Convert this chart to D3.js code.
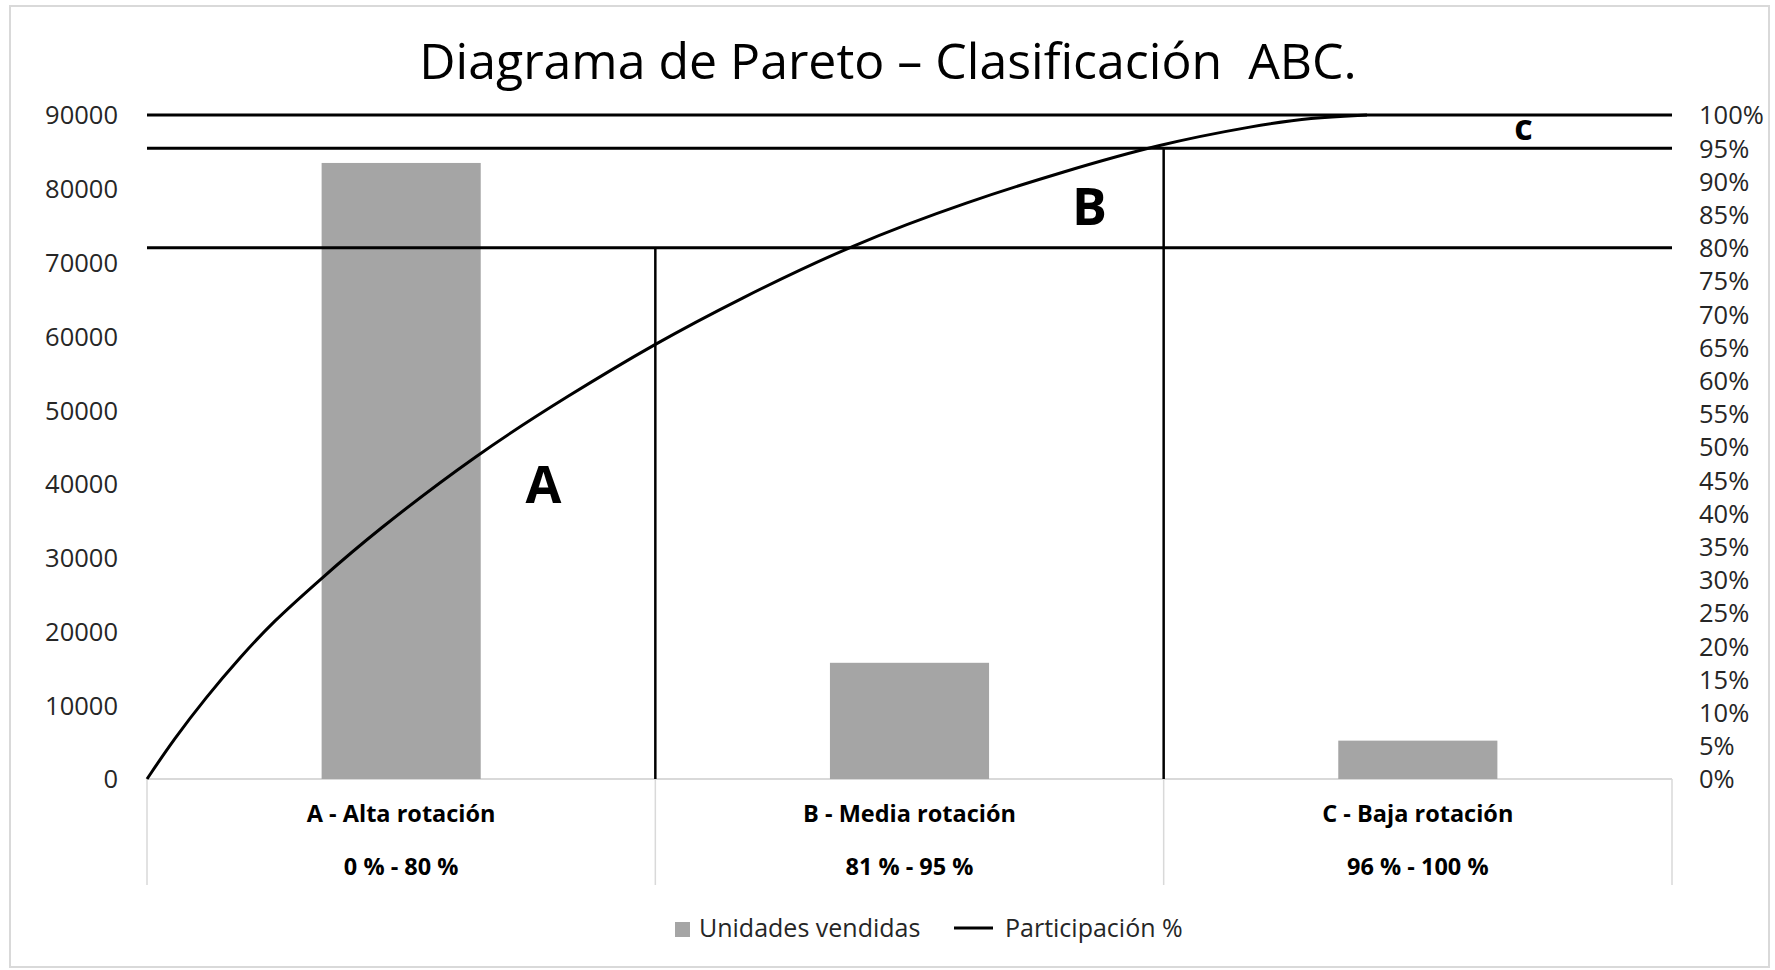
<!DOCTYPE html>
<html>
<head>
<meta charset="utf-8">
<script src="https://cdn.jsdelivr.net/npm/d3@7"></script>
<style>
    body { margin: 0; background: #fff; }
    text { font-family: "Open Sans", sans-serif; }
</style>
</head>
<body>
<svg id="pareto" width="1775" height="970"></svg>
<script>
// categorias y valores
const categories = ["A - Alta rotación", "B - Media rotación", "C - Baja rotación"];
const ranges = ["0 % - 80 %", "81 % - 95 %", "96 % - 100 %"];
const unidades = [83500, 15750, 5200];

const leftTicks = [0, 10000, 20000, 30000, 40000, 50000, 60000, 70000, 80000, 90000];
const rightTicks = [0, 5, 10, 15, 20, 25, 30, 35, 40, 45, 50, 55, 60, 65, 70, 75, 80, 85, 90, 95, 100];

// curva de participacion acumulada (posicion sobre el eje de categorias 0..3, %)
const curvePos = [0, 0.052, 0.117, 0.183, 0.248, 0.34, 0.445, 0.65, 0.83, 1.0, 1.16, 1.39, 1.62, 1.8, 1.99, 2.18, 2.29, 2.4];
const curvePct = [0, 5.9, 12.4, 18.3, 23.7, 30.0, 37.0, 49, 57.8, 65.6, 72.1, 80.6, 87.1, 91.4, 95.6, 98.4, 99.6, 100];

// lineas de corte ABC
const cutLines = [80, 95, 100];
const cutBoundaries = [1, 2];
const cutBoundaryTop = [80, 95];

// letras de zona
const zoneLetters = ["A", "B", "c"];
const zonePos = [0.78, 1.854, 2.708];
const zonePct = [41.5, 83.5, 96.2];

const title = "Diagrama de Pareto – Clasificación  ABC.";
const legendNames = ["Unidades vendidas", "Participación %"];

const svg = d3.select('#pareto');

const PLOT_LEFT = 147;
const PLOT_RIGHT = 1672;
const PLOT_TOP = 115;
const PLOT_BOTTOM = 779;
const BAR_COLOR = '#a5a5a5';
const GRID = '#d9d9d9';

const xBand = d3.scaleBand().domain(categories).range([PLOT_LEFT, PLOT_RIGHT]).padding(0);
const xPos = d3.scaleLinear().domain([0, 3]).range([PLOT_LEFT, PLOT_RIGHT]);
const yLeft = d3.scaleLinear().domain([0, 90000]).range([PLOT_BOTTOM, PLOT_TOP]);
const yRight = d3.scaleLinear().domain([0, 100]).range([PLOT_BOTTOM, PLOT_TOP]);

// marco del grafico
svg.append('rect')
    .attr('x', 10).attr('y', 6)
    .attr('width', 1759).attr('height', 961)
    .attr('fill', '#fff')
    .attr('stroke', GRID)
    .attr('stroke-width', 2);

svg.append('text')
    .text(title)
    .attr('x', 888)
    .attr('y', 79)
    .attr('text-anchor', 'middle')
    .attr('font-size', 50)
    .attr('fill', '#000')
    .style('white-space', 'pre');

// ejes
const axisL = svg.append('g')
    .attr('transform', `translate(${PLOT_LEFT},0)`)
    .call(d3.axisLeft(yLeft).tickValues(leftTicks).tickSize(0).tickPadding(29).tickFormat(d3.format('d')));
const axisR = svg.append('g')
    .attr('transform', `translate(${PLOT_RIGHT},0)`)
    .call(d3.axisRight(yRight).tickValues(rightTicks).tickSize(0).tickPadding(27).tickFormat(d => d + '%'));
[axisL, axisR].forEach(g => {
    g.select('.domain').remove();
    g.selectAll('text')
        .attr('font-family', '"Open Sans", sans-serif')
        .attr('font-size', 25.5)
        .attr('fill', '#262626')
        .attr('dy', '0.35em');
});

// eje de categorias
svg.append('line')
    .attr('x1', PLOT_LEFT).attr('x2', PLOT_RIGHT)
    .attr('y1', PLOT_BOTTOM).attr('y2', PLOT_BOTTOM)
    .attr('stroke', GRID).attr('stroke-width', 2);
svg.selectAll('.divider')
    .data([0, 1, 2, 3])
    .join('line')
    .attr('class', 'divider')
    .attr('x1', d => xPos(d)).attr('x2', d => xPos(d))
    .attr('y1', PLOT_BOTTOM).attr('y2', 885)
    .attr('stroke', GRID).attr('stroke-width', 1.5);

svg.selectAll('.cat')
    .data(categories)
    .join('text')
    .attr('class', 'cat')
    .text(d => d)
    .attr('x', d => xBand(d) + xBand.bandwidth() / 2)
    .attr('y', 822)
    .attr('text-anchor', 'middle')
    .attr('font-size', 23.5)
    .attr('font-weight', 'bold')
    .attr('fill', '#000');
svg.selectAll('.range')
    .data(categories)
    .join('text')
    .attr('class', 'range')
    .text((d, i) => ranges[i])
    .attr('x', d => xBand(d) + xBand.bandwidth() / 2)
    .attr('y', 875)
    .attr('text-anchor', 'middle')
    .attr('font-size', 23.5)
    .attr('font-weight', 'bold')
    .attr('fill', '#000');

// barras
const barW = xBand.bandwidth() * 0.313;
svg.selectAll('.bar')
    .data(categories)
    .join('rect')
    .attr('class', 'bar')
    .attr('x', d => xBand(d) + (xBand.bandwidth() - barW) / 2)
    .attr('y', (d, i) => yLeft(unidades[i]))
    .attr('width', barW)
    .attr('height', (d, i) => PLOT_BOTTOM - yLeft(unidades[i]))
    .attr('fill', BAR_COLOR);

// lineas de corte
svg.selectAll('.cut')
    .data(cutLines)
    .join('line')
    .attr('class', 'cut')
    .attr('x1', PLOT_LEFT).attr('x2', PLOT_RIGHT)
    .attr('y1', d => yRight(d)).attr('y2', d => yRight(d))
    .attr('stroke', '#000').attr('stroke-width', 3);
svg.selectAll('.bound')
    .data(cutBoundaries)
    .join('line')
    .attr('class', 'bound')
    .attr('x1', d => xPos(d)).attr('x2', d => xPos(d))
    .attr('y1', (d, i) => yRight(cutBoundaryTop[i])).attr('y2', PLOT_BOTTOM)
    .attr('stroke', '#000').attr('stroke-width', 2.5);

// curva acumulada
const curveData = curvePos.map((p, i) => [p, curvePct[i]]);
svg.append('path')
    .datum(curveData)
    .attr('fill', 'none')
    .attr('stroke', '#000')
    .attr('stroke-width', 3)
    .attr('d', d3.line().x(d => xPos(d[0])).y(d => yRight(d[1])).curve(d3.curveBasis));

// letras
svg.selectAll('.zone')
    .data(zoneLetters)
    .join('text')
    .attr('class', 'zone')
    .text(d => d)
    .attr('x', (d, i) => xPos(zonePos[i]))
    .attr('y', (d, i) => yRight(zonePct[i]))
    .attr('text-anchor', 'middle')
    .attr('font-weight', 'bold')
    .attr('font-size', d => d === 'c' ? 36 : 52)
    .attr('fill', '#000');

// leyenda
const legend = svg.append('g');
legend.append('rect')
    .attr('x', 675).attr('y', 922).attr('width', 15).attr('height', 15)
    .attr('fill', BAR_COLOR);
legend.append('text')
    .text(legendNames[0])
    .attr('x', 699).attr('y', 937)
    .attr('font-size', 25).attr('fill', '#262626');
legend.append('line')
    .attr('x1', 954).attr('x2', 993).attr('y1', 928).attr('y2', 928)
    .attr('stroke', '#000').attr('stroke-width', 3);
legend.append('text')
    .text(legendNames[1])
    .attr('x', 1005).attr('y', 937)
    .attr('font-size', 25).attr('fill', '#262626');
</script>
</body>
</html>
